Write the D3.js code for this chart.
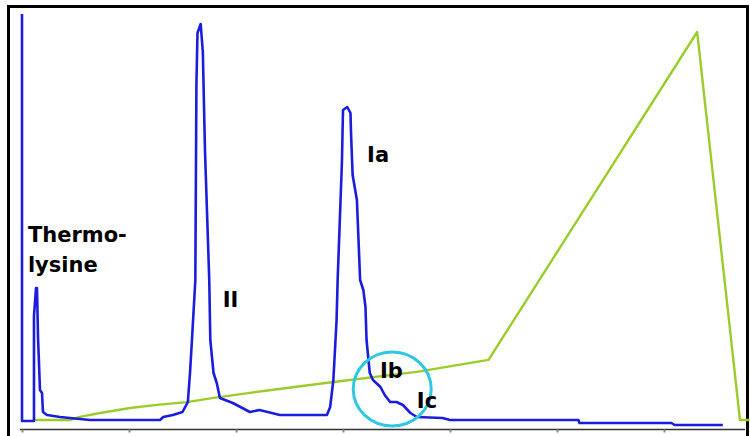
<!DOCTYPE html>
<html>
<head>
<meta charset="utf-8">
<script src="https://cdn.jsdelivr.net/npm/d3@7/dist/d3.min.js"></script>
<style>
  html, body { margin: 0; padding: 0; background: #fff; }
  svg { display: block; }
  .lbl { font-family: "DejaVu Sans", sans-serif; font-weight: bold; font-size: 21px; fill: #000; }
</style>
</head>
<body>
<svg id="chart" width="750" height="436"></svg>
<script>
// Retention time (min) and absorbance (mAU) of the chromatogram trace
const traceTime = [0, 0, 1.12, 1.12, 1.31, 1.40, 1.50, 1.68, 1.87, 1.96, 2.34, 3.55, 6.36, 12.9, 13.2, 14.1, 15.0, 15.5, 15.7, 15.9, 16.2, 16.3, 16.4, 16.7, 16.9, 17.1, 17.5, 17.6, 17.9, 18.2, 18.5, 19.7, 21.3, 22.2, 24.1, 28.5, 28.8, 29.1, 29.4, 29.5, 29.9, 30.0, 30.4, 30.7, 30.75, 30.9, 31.3, 31.6, 31.9, 32.1, 32.2, 32.5, 32.8, 33.5, 33.9, 34.4, 35.0, 35.6, 36.3, 36.9, 39.3, 40.0, 52.0, 52.1, 60.7, 61.0, 65.5];
const traceAbs  = [2075, 40, 40, 565, 705, 705, 455, 195, 180, 85, 70, 60, 45, 45, 60, 70, 85, 135, 280, 460, 745, 1720, 1980, 2025, 1885, 1395, 745, 445, 280, 230, 155, 130, 85, 95, 70, 70, 110, 245, 545, 745, 1335, 1595, 1610, 1580, 1480, 1270, 1145, 745, 695, 610, 445, 280, 245, 210, 170, 135, 135, 120, 80, 60, 55, 45, 45, 30, 30, 20, 20];

// Gradient (% solvent B)
const gradTime = [1.2, 4.5, 5.4, 7.3, 10.1, 12.6, 15.4, 17.9, 21.3, 29.1, 36.9, 43.6, 63.1, 67.1, 68.0];
const gradPctB = [0, 0, 0.8, 1.8, 3.1, 3.9, 4.6, 5.7, 7.0, 9.8, 12.4, 15.5, 100, 0, 0];

// Peak labels
const peakLabels = [
  { lines: ["Thermo-", "lysine"], t: 0.55, v: 935 },
  { lines: ["II"], t: 18.75, v: 610 },
  { lines: ["Ia"], t: 32.25, v: 1335 },
  { lines: ["Ib"], t: 33.45, v: 255 },
  { lines: ["Ic"], t: 36.9, v: 105 }
];
// Highlighted region (Ib / Ic shoulder)
const highlight = { t: 34.6, v: 200 };

const xTicks = [0, 10, 20, 30, 40, 50, 60];

const svg = d3.select("#chart");
const mL = 22, mR = 749.6, mT = 8, mB = 429;

const x = d3.scaleLinear().domain([0, 68]).range([mL, mR]);
const y = d3.scaleLinear().domain([0, 2105]).range([mB, mT]);
const yB = d3.scaleLinear().domain([0, 100]).range([420, 32]);

// Frame
svg.append("rect").attr("x", 8.5).attr("y", 6.5).attr("width", 739).attr("height", 440)
  .attr("fill", "none").attr("stroke", "#000").attr("stroke-width", 3);

// Axis
const axis = d3.axisBottom(x).tickValues(xTicks).tickSize(3).tickFormat("");
const gAx = svg.append("g").attr("transform", `translate(0,${mB + 0.5})`).call(axis);
gAx.select(".domain").attr("stroke", "#333").attr("stroke-width", 1.5)
  .attr("d", `M${mL - 2},0H${745}`);
gAx.selectAll(".tick line").attr("stroke", "#888").attr("stroke-width", 2);

// Gradient line
const gradData = gradTime.map((t, i) => [t, gradPctB[i]]);
svg.append("path").datum(gradData)
  .attr("d", d3.line().x(d => x(d[0])).y(d => yB(d[1])))
  .attr("fill", "none").attr("stroke", "#9ccc2c").attr("stroke-width", 2.4)
  .attr("stroke-linejoin", "round");

// Trace
const traceData = traceTime.map((t, i) => [t, traceAbs[i]]);
svg.append("path").datum(traceData)
  .attr("d", d3.line().x(d => x(d[0])).y(d => y(d[1])))
  .attr("fill", "none").attr("stroke", "#1c1cdc").attr("stroke-width", 2.6)
  .attr("stroke-linejoin", "round");

// Highlight circle
svg.append("ellipse")
  .attr("cx", x(highlight.t)).attr("cy", y(highlight.v))
  .attr("rx", 39).attr("ry", 37)
  .attr("fill", "none").attr("stroke", "#30c8e0").attr("stroke-width", 3);

// Labels
peakLabels.forEach(p => {
  const txt = svg.append("text").attr("class", "lbl")
    .attr("x", x(p.t)).attr("y", y(p.v));
  p.lines.forEach((ln, i) => {
    txt.append("tspan").attr("x", x(p.t)).attr("dy", i === 0 ? 0 : 30).text(ln);
  });
});
</script>
</body>
</html>
